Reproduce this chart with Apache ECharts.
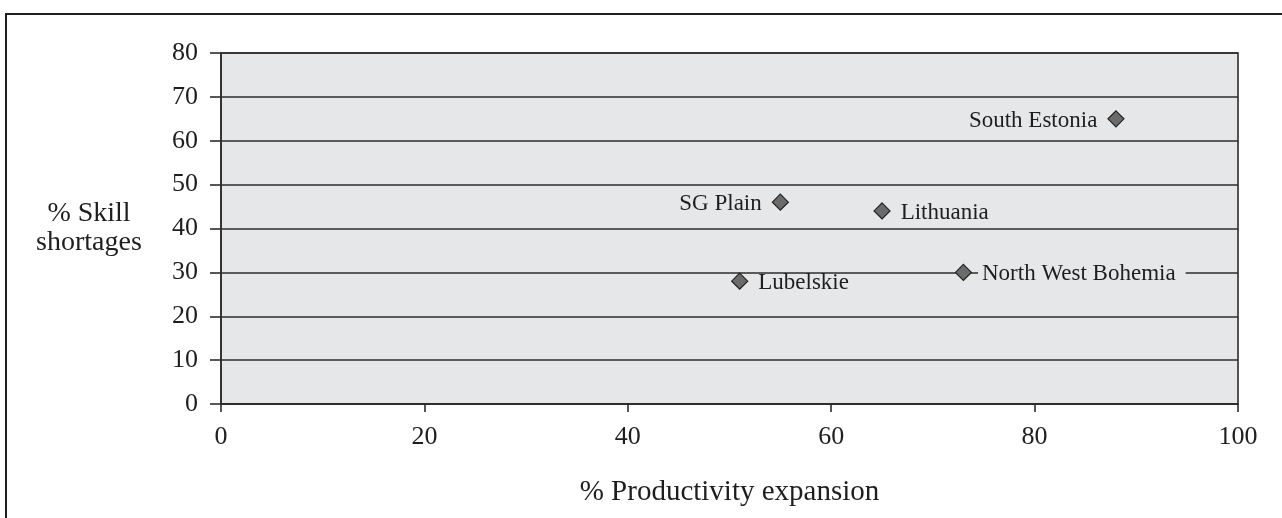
<!DOCTYPE html>
<html>
<head>
<meta charset="utf-8">
<script src="https://cdn.jsdelivr.net/npm/echarts@6/dist/echarts.min.js"></script>
<style>
  html, body { margin: 0; padding: 0; background: #ffffff; }
  #chart { width: 1282px; height: 518px; }
</style>
</head>
<body>
<div id="chart"></div>
<script>
// Regions: productivity expansion (%) against skill shortages (%)
const regions = ['South Estonia', 'SG Plain', 'Lithuania', 'Lubelskie', 'North West Bohemia'];
const productivity = [88, 55, 65, 51, 73];
const skillShortages = [65, 46, 44, 28, 30];
const labelSides = ['left', 'left', 'right', 'right', 'right'];

const xTitle = '% Productivity expansion';
const yTitle = '% Skill\nshortages';

const plotBg = '#e6e7e9';
const ink = '#1e1e1e';
const rule = '#2c2c2c';
const serif = '"Liberation Serif", "Times New Roman", serif';

const points = regions.map((name, i) => {
  const side = labelSides[i];
  const label = {
    show: true,
    position: side,
    distance: 6,
    offset: [0, 2],
    formatter: name,
    fontFamily: serif,
    fontSize: 23,
    color: ink,
    padding: side === 'right' ? [0, 10, 0, 4] : [0, 4, 0, 10]
  };
  // the label that sits on a gridline masks it with the plot colour
  if (name === 'North West Bohemia') label.backgroundColor = plotBg;
  return { name, value: [productivity[i], skillShortages[i]], label };
});

const chart = echarts.init(document.getElementById('chart'), null, { renderer: 'canvas' });
chart.setOption({
  animation: false,
  backgroundColor: '#ffffff',
  graphic: [{
    type: 'rect',
    shape: { x: 6, y: 14, width: 1400, height: 700 },
    style: { fill: 'none', stroke: ink, lineWidth: 2 },
    silent: true,
    z: 100
  }],
  grid: {
    left: 221, right: 44, top: 53, bottom: 114,
    show: true,
    backgroundColor: plotBg,
    borderColor: rule,
    borderWidth: 1.6
  },
  xAxis: {
    type: 'value',
    min: 0, max: 100, interval: 20,
    name: xTitle,
    nameLocation: 'middle',
    nameGap: 74,
    nameTextStyle: { fontFamily: serif, fontSize: 29, color: ink },
    axisLine: { show: true, onZero: false, lineStyle: { color: rule, width: 1.6 } },
    axisTick: { show: true, inside: false, length: 8, lineStyle: { color: rule, width: 1.6 } },
    axisLabel: { margin: 20, fontFamily: serif, fontSize: 26, color: ink },
    splitLine: { show: false }
  },
  yAxis: {
    type: 'value',
    min: 0, max: 80, interval: 10,
    name: yTitle,
    nameLocation: 'middle',
    nameRotate: 0,
    nameGap: 132,
    nameTextStyle: { fontFamily: serif, fontSize: 28, color: ink, align: 'center', lineHeight: 29 },
    axisLine: { show: true, onZero: false, lineStyle: { color: rule, width: 1.6 } },
    axisTick: { show: true, inside: false, length: 11, lineStyle: { color: rule, width: 1.6 } },
    axisLabel: { margin: 23, fontFamily: serif, fontSize: 26, color: ink },
    splitLine: { show: true, lineStyle: { color: rule, width: 1.6 } }
  },
  series: [{
    type: 'scatter',
    symbol: 'diamond',
    symbolSize: 16,
    itemStyle: { color: '#6b6b6b', borderColor: '#222222', borderWidth: 1.2, opacity: 1 },
    data: points,
    z: 5
  }]
});
</script>
</body>
</html>
